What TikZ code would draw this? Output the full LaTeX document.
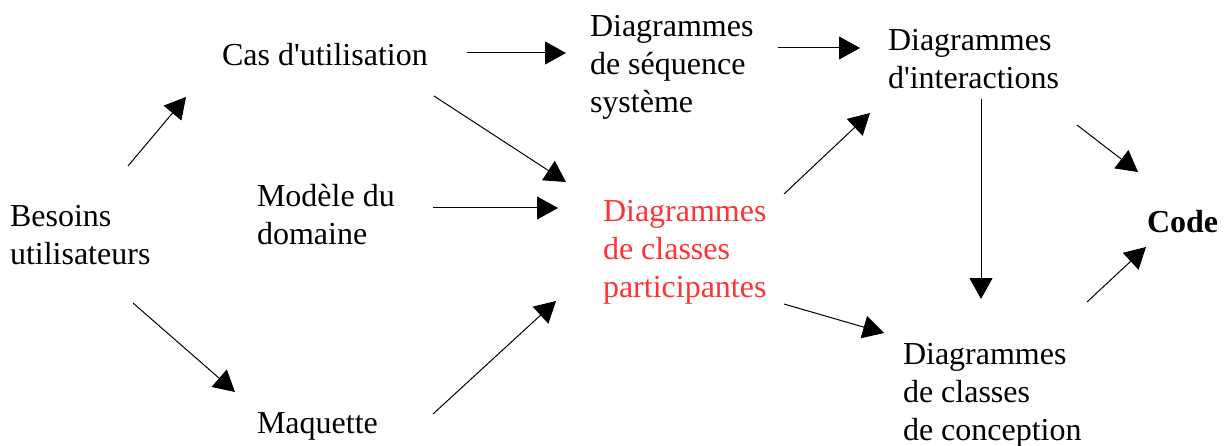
\documentclass[tikz,border=0pt]{standalone}
\usepackage{fontspec}
\setmainfont{Liberation Serif}
\usepackage{tikz}
\usetikzlibrary{arrows.meta}
\definecolor{partred}{RGB}{255,51,51}
\tikzstyle{txt} = [inner sep=0pt, outer sep=0pt, align=left, anchor=west, font=\fontsize{32}{38}\selectfont]
\tikzstyle{arrow} = [line width=1pt, -{Triangle[length=21pt, width=23pt]}]

\begin{document}
\begin{tikzpicture}[x=1pt, y=-1pt]
      \useasboundingbox (0,0) rectangle (1228,446);
      \node (bes) [txt] at (10,235) {Besoins\\utilisateurs};
      \node (cas) [txt] at (222,55) {Cas d\textquotesingle utilisation};
      \node (mod) [txt] at (257,215) {Modèle du\\domaine};
      \node (maq) [txt] at (257,426) {Maquette};
      \node (seq) [txt] at (590,67) {Diagrammes\\de séquence\\système};
      \node (part) [txt, text=partred] at (603,252) {Diagrammes\\de classes\\participantes};
      \node (inter) [txt] at (888,59) {Diagrammes\\d\textquotesingle interactions};
      \node (conc) [txt] at (903,395) {Diagrammes\\de classes\\de conception};
      \node (code) [txt, font=\fontsize{32}{38}\selectfont\bfseries] at (1147,222) {Code};
      \draw [arrow] ([shift={(118,-69)}]bes.west) -- ([shift={(-36,42)}]cas.west);
      \draw [arrow] ([shift={(123,68)}]bes.west) -- ([shift={(-22,-34)}]maq.west);
      \draw [arrow] ([shift={(245,-2)}]cas.west) -- ([shift={(-24,-14)}]seq.west);
      \draw [arrow] ([shift={(212,41)}]cas.west) -- ([shift={(-37,-70)}]part.west);
      \draw [arrow] ([shift={(176,-7)}]mod.west) -- ([shift={(-45,-44)}]part.west);
      \draw [arrow] ([shift={(176,-12)}]maq.west) -- ([shift={(-47,49)}]part.west);
      \draw [arrow] ([shift={(188,-19)}]seq.west) -- ([shift={(-28,-11)}]inter.west);
      \draw [arrow] ([shift={(181,-58)}]part.west) -- ([shift={(-18,54)}]inter.west);
      \draw [arrow] ([shift={(181,52)}]part.west) -- ([shift={(-19,-62)}]conc.west);
      \draw [arrow] ([shift={(93,40)}]inter.west) -- ([shift={(78,-96)}]conc.west);
      \draw [arrow] ([shift={(189,66)}]inter.west) -- ([shift={(-9,-50)}]code.west);
      \draw [arrow] ([shift={(184,-93)}]conc.west) -- ([shift={(-1,25)}]code.west);
    \end{tikzpicture}
\end{document}
